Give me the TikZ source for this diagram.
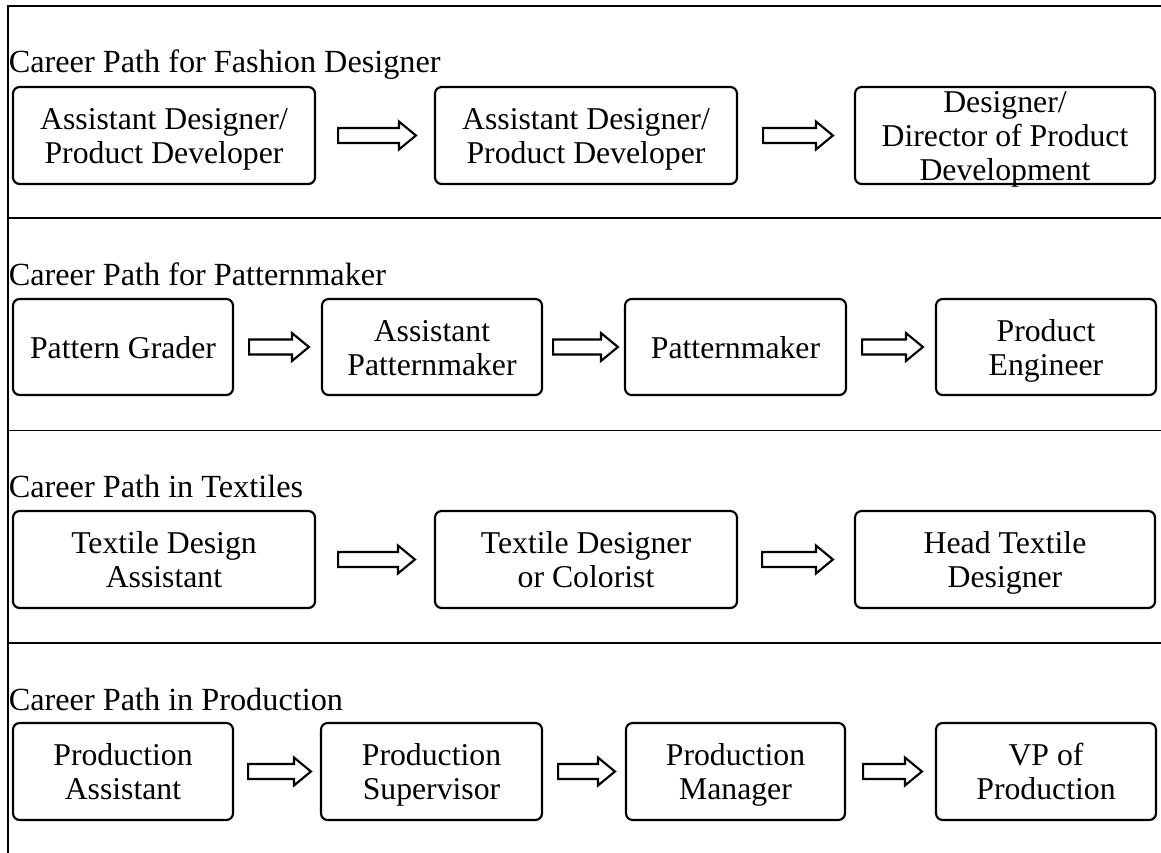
\documentclass[tikz,border=0pt]{standalone}
\usepackage{fontspec}
\setmainfont{Liberation Serif}
\usetikzlibrary{fit,calc}

% one drawing unit is one pixel of the 1161 x 853 sheet
\def\pxu{0.75pt}
\newcommand\boxfont{\fontsize{23.8pt}{25.5pt}\selectfont}
\newcommand\headfont{\fontsize{24.2pt}{26pt}\selectfont}

\tikzset{
  frame/.style={line width=1.4pt},
  stepbox/.style={draw, line width=1.6pt, rounded corners=5pt, inner sep=0pt},
  boxtext/.style={align=center, inner sep=0pt, font=\boxfont},
  heading/.style={anchor=base west, inner sep=0pt, font=\headfont},
  flow/.style={draw, line width=1.6pt, fill=white, line join=miter},
}

% \stepnode{name}{x1}{y1}{x2}{y2}{text}: rounded box spanning two corners, text set in it
\newcommand\stepnode[6]{%
  \node[stepbox, fit={(#2,#3) (#4,#5)}] (#1) {};
  \node[boxtext] (#1t) at ([yshift=-3.15pt]#1.center) {#6};
}

% \flowarrow{from}{to}{gap after from}{gap before to}: outlined block arrow
\newcommand\flowarrow[4]{%
  \draw[flow] let \p1=(#1.east), \p2=(#2.west) in
    (\x1+#3*\pxu, \y1+7.5*\pxu)
    -- (\x2-#4*\pxu-17*\pxu, \y1+7.5*\pxu)
    -- (\x2-#4*\pxu-17*\pxu, \y1+14*\pxu)
    -- (\x2-#4*\pxu, \y1)
    -- (\x2-#4*\pxu-17*\pxu, \y1-14*\pxu)
    -- (\x2-#4*\pxu-17*\pxu, \y1-7.5*\pxu)
    -- (\x1+#3*\pxu, \y1-7.5*\pxu) -- cycle;
}

\begin{document}
\begin{tikzpicture}[x=0.75pt, y=-0.75pt]
\useasboundingbox (0,0) rectangle (1161,853);

% frame and section rules
\draw[frame] (8,853) -- (8,6) -- (1161,6);
\draw[frame] (8,218) -- (1161,218);
\draw[frame] (8,430.5) -- (1161,430.5);
\draw[frame] (8,643) -- (1161,643);

% headings
\node[heading] (h1) at (8.5,72)  {Career Path for Fashion Designer};
\node[heading] (h2) at (8.5,285) {Career Path for Patternmaker};
\node[heading] (h3) at (8.5,497) {Career Path in Textiles};
\node[heading] (h4) at (8.5,710) {Career Path in Production};

% fashion designer
\stepnode{a1}{13}{87}{315}{184}{\strut Assistant Designer/\\\strut Product Developer}
\stepnode{a2}{435}{87}{737}{184}{\strut Assistant Designer/\\\strut Product Developer}
\stepnode{a3}{855}{87}{1155}{184}{\strut Designer/\\\strut Director of Product\\\strut Development}
\flowarrow{a1}{a2}{22}{18}
\flowarrow{a2}{a3}{25}{21}

% patternmaker
\stepnode{b1}{13}{299}{233}{395}{\strut Pattern Grader}
\stepnode{b2}{322}{299}{542}{395}{\strut Assistant\\\strut Patternmaker}
\stepnode{b3}{625}{299}{846}{395}{\strut Patternmaker}
\stepnode{b4}{936}{299}{1156}{395}{\strut Product\\\strut Engineer}
\flowarrow{b1}{b2}{15}{12}
\flowarrow{b2}{b3}{10}{6}
\flowarrow{b3}{b4}{15}{12}

% textiles
\stepnode{c1}{13}{511}{315}{608}{\strut Textile Design\\\strut Assistant}
\stepnode{c2}{435}{511}{737}{608}{\strut Textile Designer\\\strut or Colorist}
\stepnode{c3}{855}{511}{1155}{608}{\strut Head Textile\\\strut Designer}
\flowarrow{c1}{c2}{22}{19}
\flowarrow{c2}{c3}{24}{21}

% production
\stepnode{d1}{13}{723}{233}{820}{\strut Production\\\strut Assistant}
\stepnode{d2}{321}{723}{542}{820}{\strut Production\\\strut Supervisor}
\stepnode{d3}{626}{723}{845}{820}{\strut Production\\\strut Manager}
\stepnode{d4}{936}{723}{1156}{820}{\strut VP of\\\strut Production}
\flowarrow{d1}{d2}{14}{9}
\flowarrow{d2}{d3}{15}{10}
\flowarrow{d3}{d4}{17}{13}
\end{tikzpicture}
\end{document}
